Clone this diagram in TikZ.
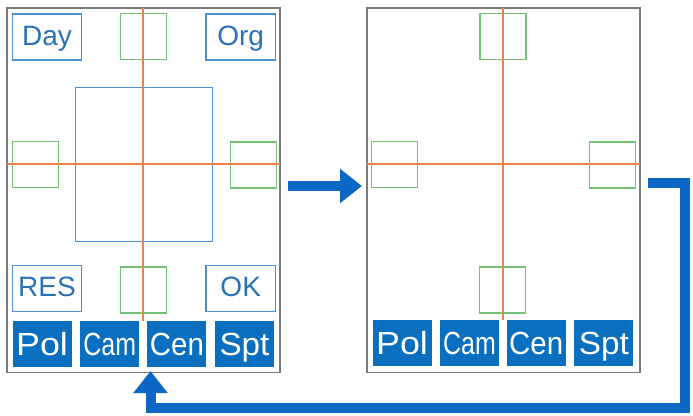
\documentclass[tikz,border=0pt]{standalone}
\usepackage{fontspec}
\setmainfont{Liberation Sans}
\usetikzlibrary{arrows.meta}
\definecolor{btn}{HTML}{0B6FC0}
\definecolor{arr}{HTML}{0C66C4}
\definecolor{bline}{HTML}{4A8FD0}
\definecolor{btext}{HTML}{2A72B4}
\definecolor{gbox}{HTML}{74C174}
\definecolor{oline}{HTML}{F07F4A}
\definecolor{frame}{HTML}{7A7A7A}
\newcommand{\sx}[2]{\scalebox{#1}[1]{#2}}
\tikzset{
  panel/.style={draw=frame, line width=1.6pt, minimum width=273pt, minimum height=364.7pt, inner sep=0pt},
  gsq/.style={draw=gbox, line width=1.4pt, minimum width=46pt, minimum height=46pt, inner sep=0pt},
  bbox/.style={draw=bline, line width=1.4pt, minimum width=69.4pt, minimum height=46pt, inner sep=0pt, text=btext, font=\fontsize{28}{28}\selectfont, text height=20pt, text depth=4pt},
  bigbox/.style={draw=bline, line width=1.4pt, minimum width=137pt, minimum height=154pt, inner sep=0pt},
  btnbox/.style={fill=btn, minimum width=59pt, minimum height=46pt, inner sep=0pt, text=white, font=\fontsize{32}{32}\selectfont, text height=23pt, text depth=0pt},
  cross/.style={draw=oline, line width=2pt},
  flow/.style={draw=arr, line width=10pt, -{Triangle[length=22pt,width=33pt]}},
}
\begin{document}
\begin{tikzpicture}[x=1pt,y=-1pt]
\useasboundingbox (0,0) rectangle (693,415);
% panels
\node[panel] (L) at (143.5,190.3) {};
\node[panel] (R) at (503.5,190.3) {};
% left panel content
\node[bigbox] (C) at (143.8,164.7) {};
\node[gsq] (Lt) at (143.7,36.7) {};
\node[gsq] (Ll) at (35.3,164.5) {};
\node[gsq] (Lr) at (253.3,165) {};
\node[gsq] (Lb) at (143.3,290) {};
\node[bbox] (day) at (47,37) {Day};
\node[bbox] (org) at (240.7,37) {Org};
\node[bbox] (res) at (47,288.7) {RES};
\node[bbox] (ok) at (240.7,288.7) {OK};
\coordinate (LhW) at (7,164.3);
\coordinate (LhE) at (280,164.3);
\coordinate (LvN) at (143.3,8);
\coordinate (LvS) at (143.3,320.7);
\draw[cross] (LhW) -- (LhE);
\draw[cross] (LvN) -- (LvS);
\node[btnbox] (Lpol) at (42,343.7) {\sx{1.12}{Pol}};
\node[btnbox] (Lcam) at (109.7,343.7) {\sx{0.78}{Cam}};
\node[btnbox] (Lcen) at (176.9,343.7) {\sx{0.92}{Cen}};
\node[btnbox] (Lspt) at (244.5,343.7) {\sx{1.04}{Spt}};
% right panel content
\node[gsq] (Rt) at (503,36.7) {};
\node[gsq] (Rl) at (394.3,164.5) {};
\node[gsq] (Rr) at (612.7,165) {};
\node[gsq] (Rb) at (502.7,290) {};
\coordinate (RhW) at (367,164.3);
\coordinate (RhE) at (640,164.3);
\coordinate (RvN) at (503.3,8);
\coordinate (RvS) at (503.3,320);
\draw[cross] (RhW) -- (RhE);
\draw[cross] (RvN) -- (RvS);
\node[btnbox] (Rpol) at (402,343.4) {\sx{1.12}{Pol}};
\node[btnbox] (Rcam) at (469.5,343.4) {\sx{0.78}{Cam}};
\node[btnbox] (Rcen) at (536.2,343.4) {\sx{0.92}{Cen}};
\node[btnbox] (Rspt) at (603.8,343.4) {\sx{1.04}{Spt}};
% arrows
\coordinate (a1s) at (287.5,186);
\coordinate (a1e) at (362,186);
\draw[flow] (a1s) -- (a1e);
\coordinate (a2s) at (647.5,183.3);
\coordinate (a2c1) at (685,183.3);
\coordinate (a2c2) at (685,407.5);
\coordinate (a2c3) at (150.5,407.5);
\coordinate (a2e) at (150.5,371);
\draw[flow, line join=miter] (a2s) -- (a2c1) -- (a2c2) -- (a2c3) -- (a2e);
\end{tikzpicture}
\end{document}
